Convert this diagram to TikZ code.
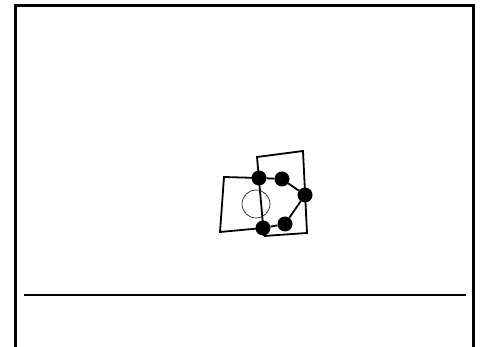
\documentclass[tikz,border=0pt]{standalone}
\begin{document}
\begin{tikzpicture}[x=1pt,y=-1pt,
  frame/.style={line width=3pt},
  edge/.style={line width=1.8pt},
  dot/.style={circle,fill=black,inner sep=0pt,minimum size=15pt}]
\useasboundingbox (0,0) rectangle (485,347);
% frame
\draw[frame] (15,347) -- (15,6) -- (473,6) -- (473,347);
\draw[line width=2.5pt] (24,295) -- (466,295);
% circle
\draw[line width=0.6pt] (256,204) circle (14);
% quads
\coordinate (la) at (224,177);
\coordinate (lb) at (220,232);
\coordinate (ra) at (257,157);
\coordinate (rb) at (303,151);
\coordinate (rc) at (307,233);
\coordinate (rd) at (264,236);
\node[dot] (d1) at (259,178) {};
\node[dot] (d2) at (282,179) {};
\node[dot] (d3) at (305,195) {};
\node[dot] (d4) at (285,224) {};
\node[dot] (d5) at (263,228) {};
\draw[edge] (d1.center) -- (la) -- (lb) -- (d5.center);
\draw[edge] (rd) -- (ra) -- (rb) -- (rc) -- (rd);
\draw[edge] (d1) -- (d2) -- (d3) -- (d4) -- (d5);
\end{tikzpicture}
\end{document}
